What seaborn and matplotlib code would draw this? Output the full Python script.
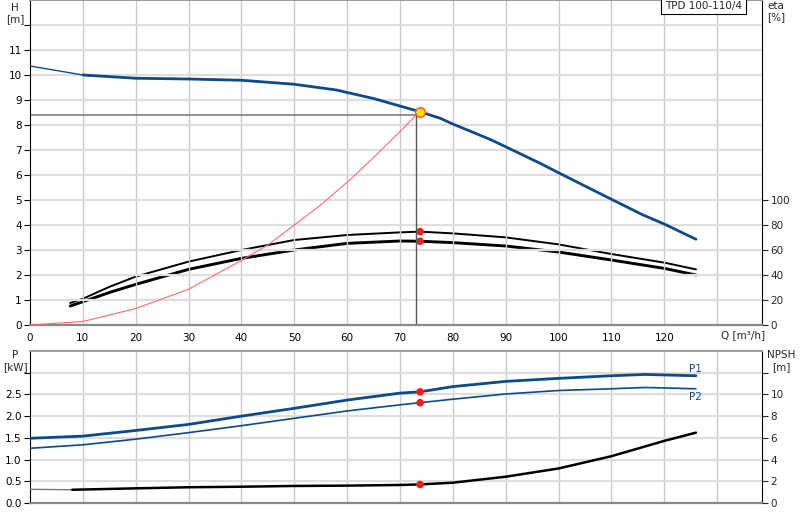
import numpy as np
import pandas as pd
import seaborn as sns
import matplotlib.pyplot as plt

sns.set_style("white")
plt.rcParams['font.family'] = ['DejaVu Sans']

# Q-H curve (pump head)
q_head = [0, 10, 20, 30, 40, 50, 58, 60, 65, 70, 73.8, 77.6, 80, 87, 90, 96.5, 100, 110, 116, 120, 126]
head = [10.36, 10.0, 9.87, 9.84, 9.79, 9.63, 9.4, 9.3, 9.06, 8.76, 8.53, 8.27, 8.04, 7.43, 7.13, 6.47,
        6.09, 5.03, 4.4, 4.04, 3.43]

# system curve
q_sys = [0, 10, 20, 30, 40, 45, 50, 55, 60.5, 65, 70, 73.1]
h_sys = [0, 0.14, 0.66, 1.43, 2.58, 3.2, 4.0, 4.8, 5.8, 6.7, 7.73, 8.4]

# efficiency curves [%]
q_eta = [7.6, 10, 15, 20, 30, 40, 50, 60, 70, 73.8, 80, 90, 100, 110, 120, 126]
eta_upper = [17.6, 21, 30.5, 38.7, 50.7, 60, 68, 72, 74.1, 74.7, 73.3, 70.1, 64.5, 56.8, 49.9, 44.5]
eta_lower = [15.2, 18.6, 26, 32.5, 44.5, 53.3, 60, 65.3, 67.2, 67, 65.9, 63.2, 58.4, 52, 45.3, 40]

# power curves [kW]
q_pow = [0, 10, 20, 30, 40, 50, 60, 70, 73.8, 80, 90, 100, 110, 116.4, 126]
p1 = [1.49, 1.54, 1.67, 1.81, 2.0, 2.18, 2.37, 2.53, 2.56, 2.68, 2.80, 2.87, 2.93, 2.96, 2.93]
p2 = [1.26, 1.34, 1.47, 1.62, 1.78, 1.95, 2.12, 2.26, 2.31, 2.39, 2.51, 2.59, 2.63, 2.66, 2.63]

# NPSH [m]
q_npsh = [0, 8, 20, 30, 40, 50, 60, 70, 73.8, 80, 90, 100, 110, 120, 126]
npsh = [1.26, 1.22, 1.35, 1.45, 1.5, 1.57, 1.6, 1.66, 1.71, 1.87, 2.42, 3.18, 4.31, 5.72, 6.48]

duty_q, duty_h = 73.1, 8.4
pt_q = 73.8

blue = '#0d4a8a'
grid_h = '#dedede'
grid_v = '#c9c9c9'

fig = plt.figure(figsize=(8, 5.2), dpi=100)
ax1 = fig.add_axes([30 / 800, 1 - 325 / 520, 732 / 800, 325 / 520])
ax2 = fig.add_axes([30 / 800, 17 / 520, 732 / 800, 152 / 520])


def style_axes(ax, ymax, ystep):
    ax.set_xlim(0, 138.5)
    ax.set_ylim(0, ymax)
    for v in range(10, 140, 10):
        ax.axvline(v, color=grid_v, lw=1, zorder=0)
    for h in np.arange(ystep, ymax, ystep):
        ax.axhline(h, color=grid_h, lw=1.6, zorder=0)
    ax.spines['top'].set_color('#999999')
    ax.spines['top'].set_linewidth(1.4)
    ax.spines['bottom'].set_color('#888888')
    ax.spines['bottom'].set_linewidth(1.6)
    ax.spines['left'].set_color('black')
    ax.spines['right'].set_color('black')
    ax.tick_params(labelsize=7.5, length=4, width=0.8, pad=2, colors='black')
    ax.set_xticks(range(0, 140, 10))


# ---- top chart
style_axes(ax1, 13, 1)
ax1.set_yticks(range(0, 13))
ax1.set_yticklabels([str(i) for i in range(12)] + [''])
ax1.set_xticklabels([str(i) for i in range(0, 130, 10)] + [''])

df_h = pd.DataFrame({'Q': q_head, 'H': head})
sns.lineplot(data=df_h[df_h.Q <= 10], x='Q', y='H', ax=ax1, color=blue, lw=1, zorder=4)
sns.lineplot(data=df_h[df_h.Q >= 10], x='Q', y='H', ax=ax1, color=blue, lw=2, zorder=4)
sns.lineplot(x=q_sys, y=h_sys, ax=ax1, color='#ff6b6b', lw=0.8, zorder=3)
ax1.plot([0, duty_q], [duty_h, duty_h], color='#808080', lw=1.2, zorder=2)
ax1.plot([duty_q, duty_q], [0, duty_h], color='#555555', lw=1, zorder=2)

axe = ax1.twinx()
axe.set_ylim(0, 260)
axe.set_yticks(range(0, 120, 20))
axe.tick_params(labelsize=7.5, length=4, width=0.8, pad=2)
for s in axe.spines.values():
    s.set_visible(False)
sns.lineplot(x=q_eta, y=eta_upper, ax=axe, color='black', lw=1.4, zorder=3)
sns.lineplot(x=q_eta, y=eta_lower, ax=axe, color='black', lw=2.1, zorder=3)
sns.scatterplot(x=[pt_q, pt_q], y=[eta_upper[9], eta_lower[9]], ax=axe, color='#ff1a1a',
                s=30, edgecolor='none', zorder=5)
ax1.scatter([pt_q], [head[10]], s=50, color='#ffe000', edgecolor='#ff5050', lw=1, zorder=6)
ax1.set_zorder(axe.get_zorder() + 1)
ax1.patch.set_visible(False)
ax1.set_xlabel('')
ax1.set_ylabel('')
axe.set_ylabel('')

fig.text(15 / 800, 1 - 8 / 520, 'H', fontsize=7.5, ha='center', va='center')
fig.text(15 / 800, 1 - 19 / 520, '[m]', fontsize=7.5, ha='center', va='center')
fig.text(767 / 800, 1 - 6 / 520, 'eta', fontsize=7.5, ha='left', va='center')
fig.text(767 / 800, 1 - 17 / 520, '[%]', fontsize=7.5, ha='left', va='center')
fig.text(721 / 800, 1 - 335 / 520, 'Q [m³/h]', fontsize=7.5, ha='left', va='center')
ax1.text(0.9725, 0.998, 'TPD 100-110/4', transform=ax1.transAxes, fontsize=7.5,
         ha='right', va='top', zorder=10,
         bbox=dict(boxstyle='square,pad=0.35', fc='white', ec='black', lw=0.8))

# ---- bottom chart
style_axes(ax2, 3.5, 0.5)
ax2.set_yticks(np.arange(0, 3.5, 0.5))
ax2.set_yticklabels(['0.0', '0.5', '1.0', '1.5', '2.0', '2.5', ''])
ax2.set_xticklabels([])
ax2.tick_params(axis='x', length=0)

sns.lineplot(x=q_pow, y=p1, ax=ax2, color=blue, lw=2, zorder=4)
sns.lineplot(x=q_pow, y=p2, ax=ax2, color=blue, lw=1.2, zorder=4)
sns.scatterplot(x=[pt_q, pt_q], y=[p1[8], p2[8]], ax=ax2, color='#ff1a1a',
                s=30, edgecolor='none', zorder=5)
ax2.text(126, 3.08, 'P1', color=blue, fontsize=7.5, ha='center', va='center')
ax2.text(126, 2.45, 'P2', color=blue, fontsize=7.5, ha='center', va='center')

axn = ax2.twinx()
axn.set_ylim(0, 14)
axn.set_yticks(range(0, 14, 2))
axn.set_yticklabels([str(i) for i in range(0, 12, 2)] + [''])
axn.tick_params(labelsize=7.5, length=4, width=0.8, pad=2)
for s in axn.spines.values():
    s.set_visible(False)
sns.lineplot(x=q_npsh[:2], y=npsh[:2], ax=axn, color='#777777', lw=1, zorder=3)
sns.lineplot(x=q_npsh[1:], y=npsh[1:], ax=axn, color='black', lw=1.8, zorder=3)
sns.scatterplot(x=[pt_q], y=[npsh[8]], ax=axn, color='#ff1a1a', s=30, edgecolor='none', zorder=5)
axn.set_ylabel('')
ax2.set_ylabel('')

fig.text(15 / 800, 1 - 355 / 520, 'P', fontsize=7.5, ha='center', va='center')
fig.text(15 / 800, 1 - 367 / 520, '[kW]', fontsize=7.5, ha='center', va='center')
fig.text(767 / 800, 1 - 355 / 520, 'NPSH', fontsize=7.5, ha='left', va='center')
fig.text(772 / 800, 1 - 367 / 520, '[m]', fontsize=7.5, ha='left', va='center')

fig.savefig('out.png', dpi=100)
